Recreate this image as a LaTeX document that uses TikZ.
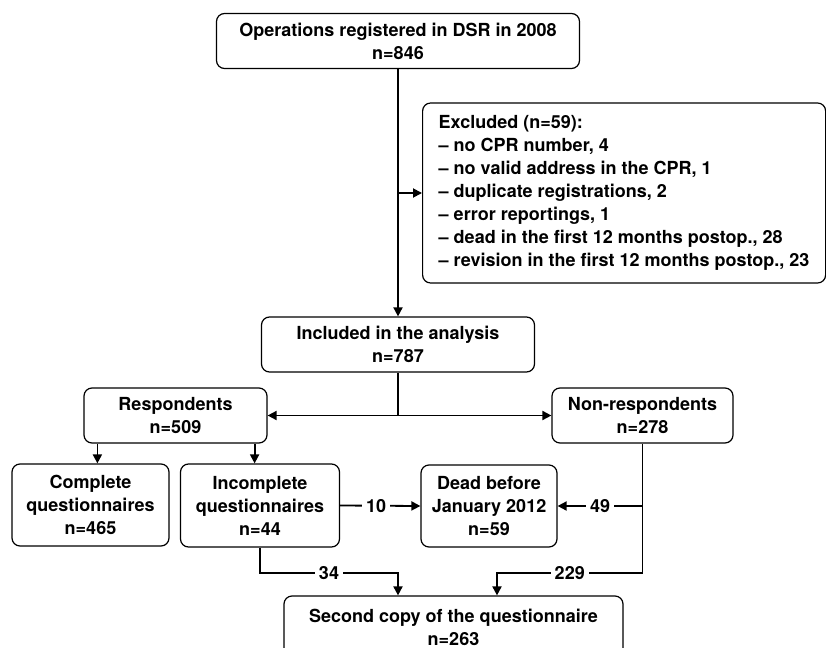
\documentclass[tikz,border=0pt]{standalone}
\usepackage{fontspec}
\setmainfont{TeX Gyre Heros}
\usetikzlibrary{arrows.meta,positioning,calc}
\tikzset{
  txt/.style={font=\bfseries\fontsize{18}{23}\selectfont,text=black},
  box/.style={txt,draw=black,line width=1.2pt,rounded corners=8pt,fill=white,align=center,inner sep=0pt},
  lbl/.style={txt,fill=white,inner xsep=4pt,inner ysep=1pt},
  ln/.style={draw=black,line width=1.8pt},
  arr/.style={-{Triangle[length=9pt,width=9pt]},draw=black,line width=1.8pt}
}

\begin{document}
\begin{tikzpicture}[x=1pt,y=-1pt]
\path[use as bounding box] (0,0) rectangle (826,647);
% boxes
\node[box,minimum width=363pt,minimum height=55pt] (reg) at (398,41) {Operations registered in DSR in 2008\\n=846};
\node[box,anchor=west,minimum height=180pt,minimum width=403pt,align=left] (excl) at (422,193) {Excluded (n=59):\\– no CPR number, 4\\– no valid address in the CPR, 1\\– duplicate registrations, 2\\– error reportings, 1\\– dead in the first 12 months postop., 28\\– revision in the first 12 months postop., 23};
\node[box,minimum width=273pt,minimum height=55pt] (incl) at (398,344.5) {Included in the analysis\\n=787};
\node[box,minimum width=183pt,minimum height=55pt] (resp) at (175.5,415.5) {Respondents\\n=509};
\node[box,minimum width=181pt,minimum height=55pt] (nonr) at (642.5,415.5) {Non-respondents\\n=278};
\node[box,minimum width=157pt,minimum height=82pt] (compl) at (90.5,505) {Complete\\questionnaires\\n=465};
\node[box,minimum width=159pt,minimum height=83pt] (incompl) at (260,505.5) {Incomplete\\questionnaires\\n=44};
\node[box,minimum width=136pt,minimum height=82pt] (dead) at (489,506) {Dead before\\January 2012\\n=59};
\node[box,minimum width=339pt,minimum height=62pt] (second) at (453.5,627) {Second copy of the questionnaire\\n=263};

% main line
\draw[arr] (reg.south) -- (incl.north);
\coordinate (bx) at (reg.south |- excl.west);
\draw[arr] (bx) -- (excl.west);
\coordinate (j1) at (incl.south |- resp.east);
\draw[ln] (incl.south) -- (j1);
\draw[arr] (j1) -- (resp.east);
\draw[arr] (j1) -- (nonr.west);

% respondents
\draw[arr] ([xshift=14pt]resp.south west) -- ([xshift=14pt]resp.south west |- compl.north);
\draw[arr] ([xshift=-13pt]resp.south east) -- ([xshift=-13pt]resp.south east |- incompl.north);
\draw[arr] (incompl.east) -- node[lbl,pos=0.45]{10} (dead.west);

% non-respondents
\coordinate (nr1) at (nonr.south |- dead.east);
\coordinate (nr2) at ($(nonr.south)+(0,129)$);
\draw[ln] (nonr.south) -- (nr2);
\draw[arr] (nr1) -- node[lbl]{49} (dead.east);

% second copy
\coordinate (s1) at ([xshift=43.5pt]second.north);
\coordinate (s2) at (second.north -| incl.south);
\draw[arr] (nr2) -- node[lbl]{229} (nr2 -| s1) -- (s1);
\draw[arr] (incompl.south) -- (incompl.south |- nr2) -- node[lbl]{34} (s2 |- nr2) -- (s2);
\end{tikzpicture}
\end{document}
